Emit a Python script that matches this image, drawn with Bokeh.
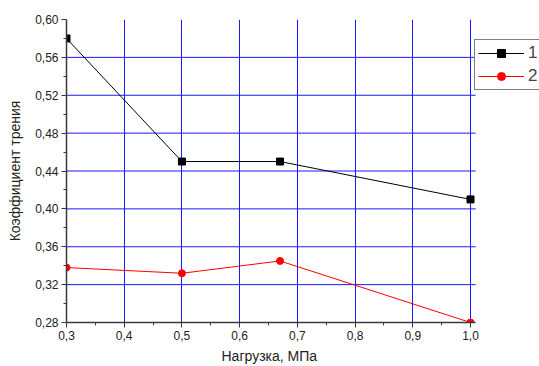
from bokeh.plotting import figure
from bokeh.models import FixedTicker, Range1d, Legend, LegendItem, Title
from bokeh.embed import file_html
from bokeh.resources import INLINE

load = [0.3, 0.5, 0.67, 1.0]
s1 = [0.58, 0.45, 0.45, 0.41]
s2 = [0.338, 0.332, 0.345, 0.28]
series_names = ["1", "2"]

x_ticks = [0.3, 0.4, 0.5, 0.6, 0.7, 0.8, 0.9, 1.0]
x_labels = ["0,3", "0,4", "0,5", "0,6", "0,7", "0,8", "0,9", "1,0"]
x_minor = [0.35, 0.45, 0.55, 0.65, 0.75, 0.85, 0.95]
y_ticks = [0.28, 0.32, 0.36, 0.40, 0.44, 0.48, 0.52, 0.56, 0.60]
y_labels = ["0,28", "0,32", "0,36", "0,40", "0,44", "0,48", "0,52", "0,56", "0,60"]
y_minor = [0.30, 0.34, 0.38, 0.42, 0.46, 0.50, 0.54, 0.58]

FONT = "Liberation Sans"
X_START, X_AXIS_END = 0.3, 1.009
# frame extends to the right canvas edge so the legend can overhang the axes
X_VIEW_END = X_START + (539 - 66) * 0.7 / 404

p = figure(width=539, height=366, output_backend="svg", toolbar_location=None,
           x_range=Range1d(X_START, X_VIEW_END), y_range=Range1d(0.28, 0.60),
           min_border_left=66, min_border_right=0, min_border_top=19, min_border_bottom=44)
p.outline_line_color = None
p.background_fill_color = "white"

for ax, ticks, minor, labels in ((p.xaxis[0], x_ticks, x_minor, x_labels), (p.yaxis[0], y_ticks, y_minor, y_labels)):
    ax.ticker = FixedTicker(ticks=ticks, minor_ticks=minor)
    ax.major_label_overrides = {t: l for t, l in zip(ticks, labels)}
    ax.axis_line_color = "#3a3a3a"
    ax.axis_line_width = 1.5
    ax.major_tick_line_color = "#3a3a3a"
    ax.minor_tick_line_color = "#3a3a3a"
    ax.major_tick_out = 5
    ax.major_tick_in = 0
    ax.minor_tick_out = 3
    ax.minor_tick_in = 0
    ax.major_label_text_font = FONT
    ax.major_label_text_font_size = "12px"
    ax.major_label_text_color = "#222222"
    ax.major_label_standoff = 3
    ax.axis_label_text_font = FONT
    ax.axis_label_text_font_size = "14px"
    ax.axis_label_text_font_style = "normal"
    ax.axis_label_text_color = "#222222"
p.xaxis.bounds = (X_START, X_AXIS_END)

p.yaxis.axis_label = "Коэффициент трения"
p.yaxis.axis_label_standoff = 9

# x-axis title, placed under the middle of the axis line (not the widened frame)
xt = Title(text="Нагрузка, МПа", align="left", offset=155,
           text_font=FONT, text_font_size="14px", text_font_style="normal",
           text_color="#222222", standoff=6)
p.add_layout(xt, "below")

GRID = "#1a1aff"
p.xgrid.ticker = FixedTicker(ticks=x_ticks[1:])
p.xgrid.grid_line_color = GRID
p.ygrid.grid_line_color = None
hy = y_ticks[1:-1]
p.segment(x0=[X_START] * len(hy), x1=[X_AXIS_END] * len(hy), y0=hy, y1=hy,
          line_color=GRID, line_width=1, level="underlay")

l1 = p.line(load, s1, line_color="black", line_width=1)
m1 = p.scatter(load, s1, marker="square", size=7, fill_color="black", line_color="black")
l2 = p.line(load, s2, line_color="red", line_width=1)
m2 = p.scatter(load, s2, marker="circle", size=7, fill_color="red", line_color="red")

legend = Legend(items=[LegendItem(label=series_names[0], renderers=[l1, m1]),
                       LegendItem(label=series_names[1], renderers=[l2, m2])],
                location=(408, 232), border_line_color="black", border_line_width=1,
                label_text_font=FONT, label_text_font_size="17px",
                glyph_width=46, glyph_height=20, label_standoff=4, spacing=3,
                padding=3, margin=0, background_fill_alpha=1)
p.add_layout(legend)

open("out.html", "w").write(file_html(p, INLINE))
